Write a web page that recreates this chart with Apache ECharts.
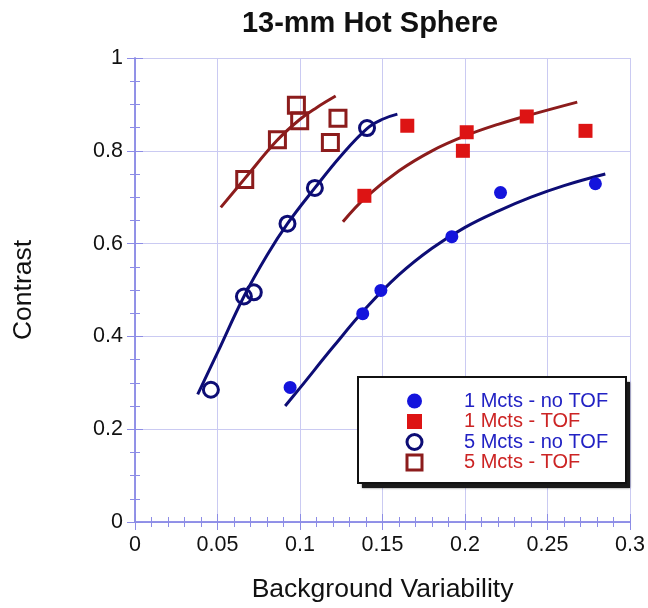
<!DOCTYPE html>
<html>
<head>
<meta charset="utf-8">
<script src="https://cdn.jsdelivr.net/npm/echarts@6/dist/echarts.min.js"></script>
<style>
  html, body { margin: 0; padding: 0; background: #fff; }
  #chart { width: 648px; height: 608px; }
</style>
</head>
<body>
<div id="chart"></div>
<script>
// Measured points: [background variability, contrast]
const oneMctsNoTOF = [[0.094, 0.290], [0.138, 0.449], [0.149, 0.499], [0.192, 0.615], [0.2215, 0.710], [0.279, 0.729]];
const oneMctsTOF = [[0.139, 0.703], [0.165, 0.854], [0.1987, 0.800], [0.201, 0.840], [0.2374, 0.874], [0.273, 0.843]];
const fiveMctsNoTOF = [[0.046, 0.285], [0.066, 0.486], [0.072, 0.495], [0.0924, 0.643], [0.109, 0.720], [0.1406, 0.849]];
const fiveMctsTOF = [[0.0665, 0.738], [0.0863, 0.824], [0.0978, 0.898], [0.0998, 0.865], [0.1184, 0.818], [0.123, 0.870]];

// Fitted trend curves, sampled along each drawn line
const fitOneMctsNoTOF = [[0.091, 0.25], [0.10, 0.289], [0.12, 0.377], [0.14, 0.461], [0.16, 0.533], [0.18, 0.59], [0.20, 0.635], [0.22, 0.67], [0.24, 0.70], [0.26, 0.725], [0.285, 0.75]];
const fitOneMctsTOF = [[0.126, 0.647], [0.14, 0.70], [0.16, 0.757], [0.18, 0.80], [0.20, 0.832], [0.22, 0.857], [0.24, 0.878], [0.268, 0.905]];
const fitFiveMctsNoTOF = [[0.038, 0.275], [0.05, 0.365], [0.066, 0.486], [0.08, 0.575], [0.0924, 0.643], [0.109, 0.72], [0.125, 0.79], [0.1406, 0.848], [0.15, 0.868], [0.159, 0.879]];
const fitFiveMctsTOF = [[0.052, 0.678], [0.0665, 0.74], [0.086, 0.822], [0.10, 0.868], [0.11, 0.893], [0.1216, 0.918]];

const seriesNames = ['1 Mcts - no TOF', '1 Mcts - TOF', '5 Mcts - no TOF', '5 Mcts - TOF'];
const xTickLabels = ['0', '0.05', '0.1', '0.15', '0.2', '0.25', '0.3'];
const yTickLabels = ['0', '0.2', '0.4', '0.6', '0.8', '1'];

const FONT = '"Liberation Sans", Arial, Helvetica, sans-serif';
const AXIS_COLOR = '#8c8ce6';
const GRID_COLOR = '#cacaf2';
const NAVY = '#0d0d75';
const DARK_RED = '#8c1c1c';
const BLUE = '#1414dc';
const RED = '#dd1414';
const LEGEND_BLUE = '#2222c4';
const LEGEND_RED = '#cc2424';

const chart = echarts.init(document.getElementById('chart'), null, { renderer: 'canvas' });

function xAxisBase(extra) {
  return Object.assign({
    type: 'value', min: 0, max: 0.3, interval: 0.05,
    axisLine: { show: true, lineStyle: { color: AXIS_COLOR, width: 1.5 } },
    axisTick: { show: true, inside: true, length: 8, lineStyle: { color: AXIS_COLOR, width: 1 } },
    minorTick: { show: true, splitNumber: 5, length: 5, lineStyle: { color: AXIS_COLOR, width: 1 } },
    splitLine: { show: false },
    axisLabel: { show: false }
  }, extra);
}
function yAxisBase(extra) {
  return Object.assign({
    type: 'value', min: 0, max: 1, interval: 0.2,
    axisLine: { show: true, lineStyle: { color: AXIS_COLOR, width: 1.5 } },
    axisTick: { show: true, inside: true, length: 8, lineStyle: { color: AXIS_COLOR, width: 1 } },
    minorTick: { show: true, splitNumber: 4, length: 5, lineStyle: { color: AXIS_COLOR, width: 1 } },
    splitLine: { show: false },
    axisLabel: { show: false }
  }, extra);
}

// Legend frame: a solid offset shadow block behind a white bordered box
const LEGEND_BOX = { x: 358, y: 377, width: 268, height: 106 };

const option = {
  backgroundColor: '#ffffff',
  animation: false,
  grid: { left: 135, right: 17.5, top: 58, bottom: 82.5 },
  xAxis: [
    xAxisBase({
      position: 'bottom',
      name: 'Background Variability',
      nameLocation: 'middle',
      nameGap: 54,
      nameTextStyle: { fontFamily: FONT, fontSize: 26.5, color: '#111' },
      splitLine: { show: true, lineStyle: { color: GRID_COLOR, width: 1 } },
      axisLabel: {
        show: true, margin: 12, fontFamily: FONT, fontSize: 21.5, color: '#111',
        formatter: v => xTickLabels[Math.round(v / 0.05)]
      }
    }),
    xAxisBase({ position: 'top' })
  ],
  yAxis: [
    yAxisBase({
      position: 'left',
      name: 'Contrast',
      nameLocation: 'middle',
      nameGap: 98,
      nameTextStyle: { fontFamily: FONT, fontSize: 26.5, color: '#111' },
      splitLine: { show: true, lineStyle: { color: GRID_COLOR, width: 1 } },
      axisLabel: {
        show: true, margin: 12, fontFamily: FONT, fontSize: 21.5, color: '#111',
        formatter: v => yTickLabels[Math.round(v / 0.2)]
      }
    }),
    yAxisBase({ position: 'right' })
  ],
  legend: {
    orient: 'vertical',
    left: 405.5,
    top: 391,
    padding: 0,
    itemWidth: 15,
    itemHeight: 15,
    itemGap: 0.5,
    z: 20,
    selectedMode: false,
    textStyle: { fontFamily: FONT, fontSize: 20, lineHeight: 20, padding: [0, 0, 0, 37] },
    data: [
      { name: seriesNames[0], icon: 'circle', itemStyle: { color: BLUE, borderWidth: 0 }, textStyle: { color: LEGEND_BLUE } },
      { name: seriesNames[1], icon: 'rect', itemStyle: { color: RED, borderWidth: 0 }, textStyle: { color: LEGEND_RED } },
      { name: seriesNames[2], icon: 'circle', itemStyle: { color: 'rgba(0,0,0,0)', borderColor: NAVY, borderWidth: 3 }, textStyle: { color: LEGEND_BLUE } },
      { name: seriesNames[3], icon: 'rect', itemStyle: { color: 'rgba(0,0,0,0)', borderColor: DARK_RED, borderWidth: 3 }, textStyle: { color: LEGEND_RED } }
    ]
  },
  graphic: [
    {
      type: 'text', z: 30,
      x: 370, y: 24,
      style: {
        text: '13-mm Hot Sphere',
        font: 'bold 29px ' + FONT, fill: '#111',
        textAlign: 'center', textVerticalAlign: 'middle'
      }
    },
    {
      type: 'rect', z: 9,
      shape: { x: LEGEND_BOX.x + 4, y: LEGEND_BOX.y + 5, width: LEGEND_BOX.width, height: LEGEND_BOX.height },
      style: { fill: '#1a1a1a', shadowBlur: 2, shadowColor: 'rgba(0,0,0,0.6)' }
    },
    {
      type: 'rect', z: 10,
      shape: LEGEND_BOX,
      style: { fill: '#ffffff', stroke: '#111', lineWidth: 2 }
    }
  ],
  series: [
    {
      name: 'fit ' + seriesNames[0], type: 'line', data: fitOneMctsNoTOF, smooth: 0.4,
      showSymbol: false, silent: true, lineStyle: { color: NAVY, width: 3 }, z: 2
    },
    {
      name: 'fit ' + seriesNames[1], type: 'line', data: fitOneMctsTOF, smooth: 0.4,
      showSymbol: false, silent: true, lineStyle: { color: DARK_RED, width: 3 }, z: 2
    },
    {
      name: 'fit ' + seriesNames[2], type: 'line', data: fitFiveMctsNoTOF, smooth: 0.4,
      showSymbol: false, silent: true, lineStyle: { color: NAVY, width: 3 }, z: 2
    },
    {
      name: 'fit ' + seriesNames[3], type: 'line', data: fitFiveMctsTOF, smooth: 0.4,
      showSymbol: false, silent: true, lineStyle: { color: DARK_RED, width: 3 }, z: 2
    },
    {
      name: seriesNames[0], type: 'scatter', data: oneMctsNoTOF, symbol: 'circle', symbolSize: 13,
      itemStyle: { color: BLUE, opacity: 1 }, z: 3
    },
    {
      name: seriesNames[1], type: 'scatter', data: oneMctsTOF, symbol: 'rect', symbolSize: 14,
      itemStyle: { color: RED, opacity: 1 }, z: 3
    },
    {
      name: seriesNames[2], type: 'scatter', data: fiveMctsNoTOF, symbol: 'circle', symbolSize: 15,
      itemStyle: { color: 'rgba(0,0,0,0)', borderColor: NAVY, borderWidth: 3, opacity: 1 }, z: 3
    },
    {
      name: seriesNames[3], type: 'scatter', data: fiveMctsTOF, symbol: 'rect', symbolSize: 16,
      itemStyle: { color: 'rgba(0,0,0,0)', borderColor: DARK_RED, borderWidth: 3, opacity: 1 }, z: 3
    }
  ]
};

chart.setOption(option);
</script>
</body>
</html>
